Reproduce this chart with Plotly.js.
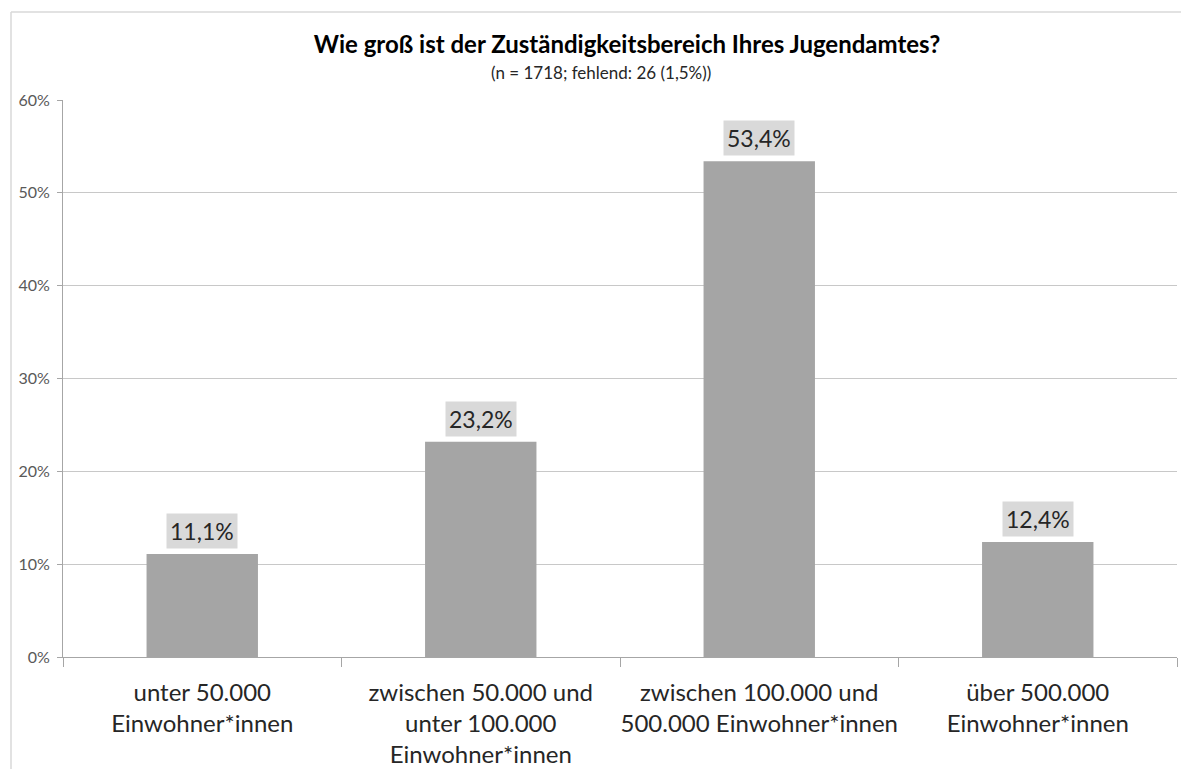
<!DOCTYPE html>
<html>
<head>
<meta charset="utf-8">
<script src="https://cdn.plot.ly/plotly-3.0.1.min.js"></script>
<style>
html,body{margin:0;padding:0;background:#fff;}
#chart{width:1181px;height:769px;}
</style>
</head>
<body>
<div id="chart"></div>
<script>
const categories = [
  "unter 50.000<br>Einwohner*innen",
  "zwischen 50.000 und<br>unter 100.000<br>Einwohner*innen",
  "zwischen 100.000 und<br>500.000 Einwohner*innen",
  "über 500.000<br>Einwohner*innen"
];
const values = [11.1, 23.2, 53.4, 12.4];
const valueLabels = ["11,1%", "23,2%", "53,4%", "12,4%"];
const yTickVals = [0, 10, 20, 30, 40, 50, 60];
const yTickText = ["0%", "10%", "20%", "30%", "40%", "50%", "60%"];
const titleText = "Wie groß ist der Zuständigkeitsbereich Ihres Jugendamtes?";
const subtitleText = "(n = 1718; fehlend: 26 (1,5%))";

const W = 1181, H = 769;
const margin = {l: 63, r: 4, t: 100, b: 112};
const pw = W - margin.l - margin.r, ph = H - margin.t - margin.b;
const px = x => (x - margin.l) / pw;
const py = y => (H - margin.b - y) / ph;

const font = "Lato, 'Open Sans', sans-serif";

const annotations = values.map((v, i) => ({
  x: categories[i], y: v, xref: 'x', yref: 'y',
  text: valueLabels[i], showarrow: false,
  yanchor: 'bottom', yshift: 5,
  bgcolor: '#d9d9d9', borderpad: 3,
  font: {family: font, size: 23, color: '#262626'}
}));
annotations.push({
  xref: 'paper', yref: 'paper', x: px(601), y: py(72),
  text: subtitleText, showarrow: false, xanchor: 'center', yanchor: 'middle',
  font: {family: font, size: 17, color: '#262626'}
});

const data = [{
  type: 'bar', x: categories, y: values,
  marker: {color: '#a5a5a5'},
  hoverinfo: 'none'
}];

const layout = {
  width: W, height: H,
  margin: margin,
  paper_bgcolor: '#fff', plot_bgcolor: '#fff',
  bargap: 0.6,
  showlegend: false,
  title: {
    text: "<b>" + titleText + "</b>",
    x: 598 / W, xref: 'paper', xanchor: 'center',
    y: 1 - 45 / H, yanchor: 'middle',
    font: {family: font, size: 24, color: '#000'}
  },
  xaxis: {
    type: 'category',
    tickson: 'boundaries', ticks: 'outside', ticklen: 9, tickcolor: '#a6a6a6',
    ticklabelstandoff: 14,
    showline: true, linecolor: '#a6a6a6', linewidth: 1,
    showgrid: false, zeroline: false,
    tickfont: {family: font, size: 24, color: '#262626'},
    tickangle: 0, fixedrange: true
  },
  yaxis: {
    range: [0, 60], tickvals: yTickVals, ticktext: yTickText,
    ticks: 'outside', ticklen: 5, tickcolor: '#a6a6a6',
    ticklabelstandoff: 4,
    showline: true, linecolor: '#a6a6a6', linewidth: 1,
    showgrid: true, gridcolor: '#c8c8c8', gridwidth: 1,
    zeroline: false,
    tickfont: {family: font, size: 16, color: '#595959'},
    fixedrange: true
  },
  annotations: annotations,
  shapes: [
    {type: 'line', xref: 'paper', yref: 'paper', x0: px(11), x1: px(11), y0: py(12), y1: py(769), line: {color: '#d9d9d9', width: 1.5}},
    {type: 'line', xref: 'paper', yref: 'paper', x0: px(11), x1: px(1181), y0: py(12), y1: py(12), line: {color: '#d9d9d9', width: 1.5}}
  ]
};

Plotly.newPlot('chart', data, layout, {displayModeBar: false, staticPlot: true});
</script>
</body>
</html>
